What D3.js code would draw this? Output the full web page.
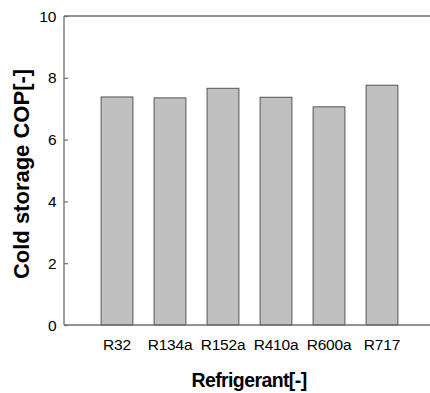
<!DOCTYPE html>
<html>
<head>
<meta charset="utf-8">
<script src="https://cdn.jsdelivr.net/npm/d3@7"></script>
<style>
  body { margin: 0; background: #fff; }
  svg { display: block; font-family: "Liberation Sans", Arial, sans-serif; }
</style>
</head>
<body>
<div id="chart"></div>
<script>
const refrigerants = ['R32', 'R134a', 'R152a', 'R410a', 'R600a', 'R717'];
const cop = [7.38, 7.35, 7.66, 7.37, 7.06, 7.76];
const yTicks = [0, 2, 4, 6, 8, 10];

const W = 430, H = 393;
const mLeft = 64, mTop = 16, mBottom = 325;

let svg = d3.select('#chart').append('svg')
  .attr('width', W)
  .attr('height', H)

// plot goes past the right edge, figure was cropped
let x = d3.scaleLinear().domain([0, 7]).range([mLeft, 435]);
let y = d3.scaleLinear().domain([0, 10]).range([mBottom, mTop]);

const barW = x(0.6) - x(0);

svg.selectAll('rect.bar')
  .data(cop)
  .join('rect')
  .attr('class', 'bar')
  .attr('x', (d, i) => x(i + 1) - barW / 2)
  .attr('y', d => y(d))
  .attr('width', barW)
  .attr('height', d => y(0) - y(d))
  .attr('fill', '#c0c0c0')
  .attr('stroke', '#555')
  .attr('stroke-width', 1)

// frame: left, bottom, top
const axisCol = '#6e6e6e';
svg.append('line')
  .attr('x1', x(0)).attr('x2', x(0)).attr('y1', y(0)).attr('y2', y(10))
  .attr('stroke', axisCol).attr('stroke-width', 1.3)
svg.append('line')
  .attr('x1', x(0)).attr('x2', x(7)).attr('y1', y(0)).attr('y2', y(0))
  .attr('stroke', axisCol).attr('stroke-width', 1.3)
svg.append('line')
  .attr('x1', x(0)).attr('x2', x(7)).attr('y1', y(10)).attr('y2', y(10))
  .attr('stroke', axisCol).attr('stroke-width', 1.3)

// y ticks point inward
const yAxis = svg.append('g')
  .attr('transform', `translate(${x(0)},0)`)
  .call(d3.axisRight(y).tickValues(yTicks).tickSize(4).tickFormat(''))
yAxis.select('.domain').remove();
yAxis.selectAll('line').attr('stroke', axisCol).attr('stroke-width', 1.2);

svg.selectAll('text.ytick')
  .data(yTicks)
  .join('text')
  .attr('class', 'ytick')
  .attr('x', 56.5)
  .attr('y', d => y(d))
  .attr('dy', '0.36em')
  .attr('text-anchor', 'end')
  .attr('font-size', 15.5)
  .attr('fill', '#000')
  .text(d => d)

svg.selectAll('text.xtick')
  .data(refrigerants)
  .join('text')
  .attr('class', 'xtick')
  .attr('x', (d, i) => x(i + 1))
  .attr('y', 349.5)
  .attr('text-anchor', 'middle')
  .attr('font-size', 15.5)
  .attr('letter-spacing', '-0.2px')
  .attr('fill', '#000')
  .text(d => d)

svg.append('text')
  .attr('x', 249)
  .attr('y', 386.5)
  .attr('text-anchor', 'middle')
  .attr('font-size', 19.5)
  .attr('font-weight', 'bold')
  .attr('letter-spacing', '-0.6px')
  .attr('fill', '#000')
  .text('Refrigerant[-]')

svg.append('text')
  .attr('transform', 'translate(28.5,174) rotate(-90)')
  .attr('text-anchor', 'middle')
  .attr('font-size', 22)
  .attr('font-weight', 'bold')
  .attr('fill', '#000')
  .text('Cold storage COP[-]')
</script>
</body>
</html>
